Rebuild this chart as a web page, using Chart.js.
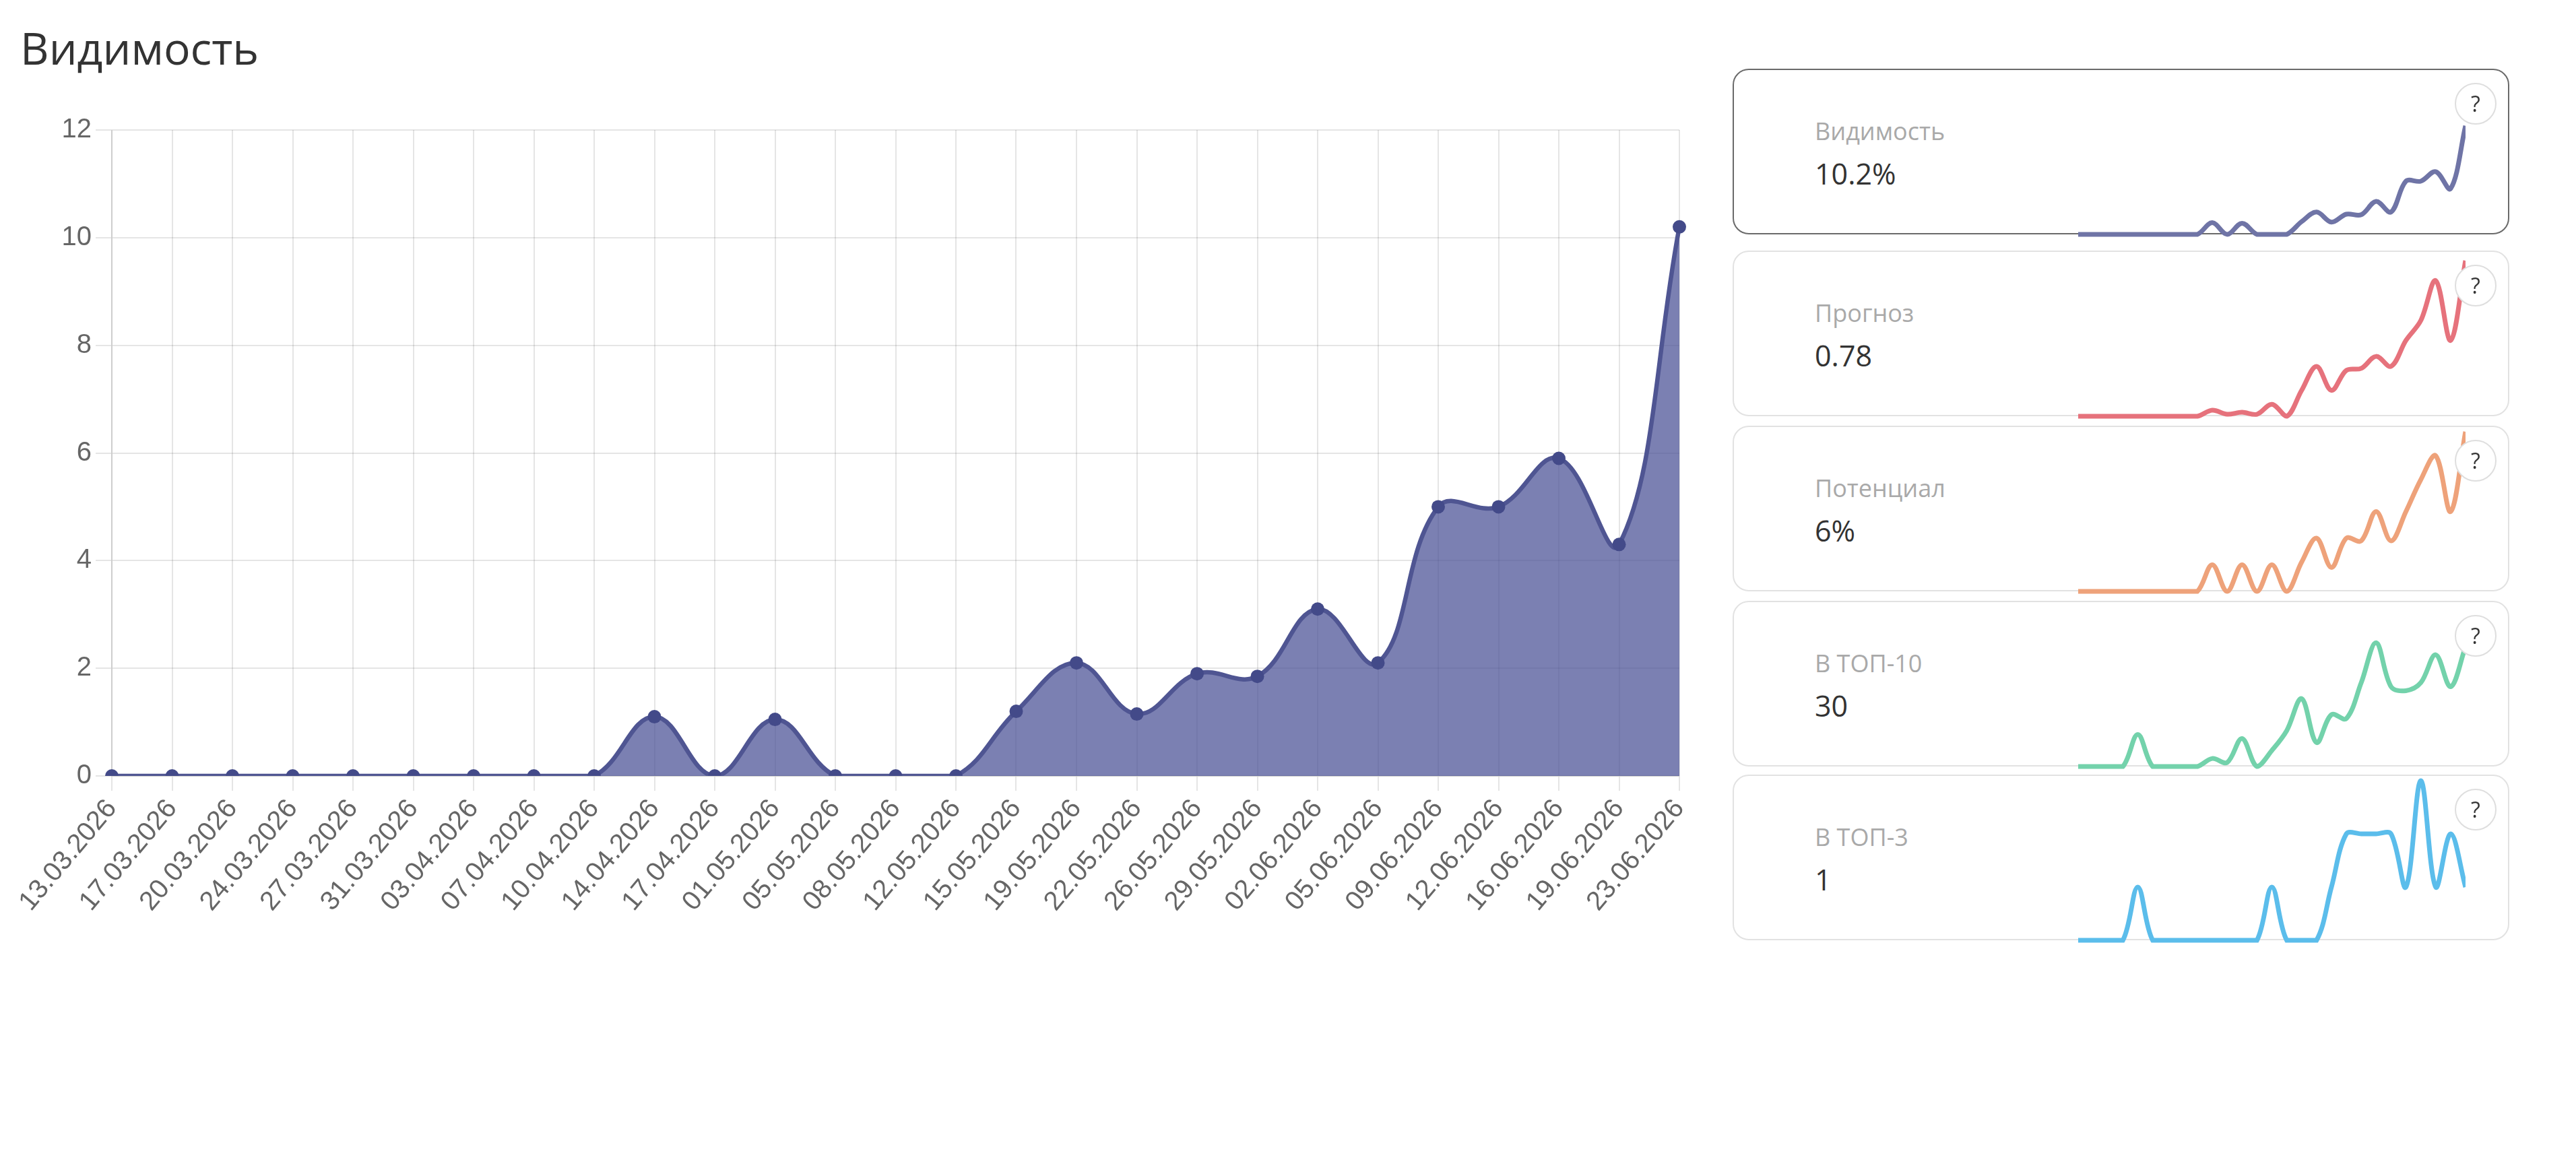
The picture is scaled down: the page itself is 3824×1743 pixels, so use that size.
<!DOCTYPE html>
<html lang="ru">
<head>
<meta charset="utf-8">
<title>Видимость</title>
<script src="https://cdn.jsdelivr.net/npm/chart.js@4.4.1/dist/chart.umd.min.js"></script>
<style>
  html, body { margin: 0; padding: 0; background: #fff; }
  body { width: 3824px; height: 1743px; position: relative; overflow: hidden; font-family: "Open Sans", sans-serif; }
  .title { position: absolute; left: 30px; top: 37px; font-size: 66px; line-height: 66px; color: #333; z-index: 2; }
  .main { position: absolute; left: 0; top: 0; width: 2543px; height: 1400px; }
  .card { position: absolute; left: 2572px; width: 1153px; height: 246px; box-sizing: border-box;
          border: 2px solid #e2e2e2; border-radius: 24px; background: #fff; }
  .card.active { border-color: #6a6a6a; }
  .card .label { position: absolute; left: 120px; top: 73px; font-size: 36px; line-height: 36px; color: #a9a9a9; }
  .card .value { position: absolute; left: 120px; top: 132px; font-size: 43px; line-height: 43px; color: #333; }
  .card .spark { position: absolute; left: 511px; top: 3px; width: 575px; height: 245px; }
  .card .help { position: absolute; left: 1070px; top: 19px; width: 62px; height: 62px; box-sizing: border-box;
                border: 2px solid #dedede; border-radius: 50%; background: #fff; font-size: 32px;
                line-height: 58px; text-align: center; color: #333; z-index: 2; }
</style>
</head>
<body>
<div class="title">Видимость</div>
<div class="main"><canvas id="mainChart"></canvas></div>
<div id="cards"></div>

<script>
// dates on the x axis
const dates = [
  "13.03.2026", "17.03.2026", "20.03.2026", "24.03.2026", "27.03.2026", "31.03.2026",
  "03.04.2026", "07.04.2026", "10.04.2026", "14.04.2026", "17.04.2026", "01.05.2026",
  "05.05.2026", "08.05.2026", "12.05.2026", "15.05.2026", "19.05.2026", "22.05.2026",
  "26.05.2026", "29.05.2026", "02.06.2026", "05.06.2026", "09.06.2026", "12.06.2026",
  "16.06.2026", "19.06.2026", "23.06.2026"
];

// series
const visibility = [0, 0, 0, 0, 0, 0, 0, 0, 0, 1.1, 0, 1.05, 0, 0, 0, 1.2, 2.1, 1.15, 1.9, 1.85, 3.1, 2.1, 5.0, 5.0, 5.9, 4.3, 10.2];
const forecast = [0, 0, 0, 0, 0, 0, 0, 0, 0, 0.03, 0.01, 0.02, 0.01, 0.06, 0, 0.13, 0.25, 0.13, 0.23, 0.24, 0.3, 0.25, 0.38, 0.48, 0.68, 0.38, 0.78];
const potential = [0, 0, 0, 0, 0, 0, 0, 0, 0, 1, 0, 1, 0, 1, 0, 1.1, 2, 0.9, 2, 1.9, 3, 1.9, 3, 4.2, 5.1, 3, 6];
const top10 = [0, 0, 0, 0, 8, 0, 0, 0, 0, 2, 1, 7, 0, 4, 9, 17, 6, 13, 12, 21, 31, 20, 19, 21, 28, 20, 30];
const top3 = [0, 0, 0, 0, 1, 0, 0, 0, 0, 0, 0, 0, 0, 1, 0, 0, 0, 1, 2, 2, 2, 2, 1, 3, 1, 2, 1];

// y ticks of the main chart
const yMin = 0;
const yMax = 12;
const yStep = 2;

// cards on the right
const cardTitles = ["Видимость", "Прогноз", "Потенциал", "В ТОП-10", "В ТОП-3"];
const cardValues = ["10.2%", "0.78", "6%", "30", "1"];
const cardSeries = [visibility, forecast, potential, top10, top3];
const cardMax = [15, 0.8, 6, 40, 3];

const cardColors = ["#6f74a6", "#e6727c", "#eea27a", "#73d2ab", "#5bbdeb"];
const cardTops = [102, 372, 632, 892, 1150];

Chart.defaults.font.family = '"Liberation Sans", Arial, sans-serif';
Chart.defaults.color = "#666";

const gridColor = "rgba(0,0,0,0.1)";

new Chart(document.getElementById("mainChart"), {
  type: "line",
  data: {
    labels: dates,
    datasets: [{
      data: visibility,
      borderColor: "#4f5592",
      borderWidth: 6.5,
      backgroundColor: "rgba(67,74,145,0.7)",
      fill: "origin",
      tension: 0.4,
      pointRadius: 10,
      pointBorderWidth: 0,
      pointBackgroundColor: "#434a89"
    }]
  },
  options: {
    responsive: true,
    maintainAspectRatio: false,
    animation: false,
    layout: { padding: { left: 0, right: 50, top: 193, bottom: 0 } },
    plugins: { legend: { display: false }, tooltip: { enabled: false } },
    scales: {
      x: {
        offset: false,
        grid: { color: gridColor, lineWidth: 2, tickLength: 22 },
        border: { color: gridColor, width: 2 },
        ticks: { autoSkip: false, minRotation: 50, maxRotation: 50, padding: 4,
                 font: { size: 40 }, color: "#666" },
        afterFit: (scale) => { scale.height = 1400 - 1152; }
      },
      y: {
        min: yMin,
        max: yMax,
        grid: { color: gridColor, lineWidth: 2, tickLength: 24 },
        border: { color: gridColor, width: 2 },
        ticks: { stepSize: yStep, padding: 6, font: { size: 40 }, color: "#666" },
        afterFit: (scale) => { scale.width = 166; }
      }
    }
  }
});

const holder = document.getElementById("cards");
cardTitles.forEach((title, i) => {
  const card = document.createElement("div");
  card.className = "card" + (i === 0 ? " active" : "");
  card.style.top = cardTops[i] + "px";
  card.innerHTML =
    '<div class="label">' + title + '</div>' +
    '<div class="value">' + cardValues[i] + '</div>' +
    '<div class="spark"><canvas></canvas></div>' +
    '<div class="help">?</div>';
  holder.appendChild(card);

  new Chart(card.querySelector("canvas"), {
    type: "line",
    data: {
      labels: dates,
      datasets: [{
        data: cardSeries[i],
        borderColor: cardColors[i],
        borderWidth: 7,
        fill: false,
        tension: 0.35,
        pointRadius: 0,
        clip: false
      }]
    },
    options: {
      responsive: true,
      maintainAspectRatio: false,
      animation: false,
      layout: { padding: { left: 0, right: 0, top: 4, bottom: 4 } },
      plugins: { legend: { display: false }, tooltip: { enabled: false } },
      scales: {
        x: { display: false, offset: false },
        y: { display: false, min: 0, max: cardMax[i] }
      }
    }
  });
});
</script>
</body>
</html>
